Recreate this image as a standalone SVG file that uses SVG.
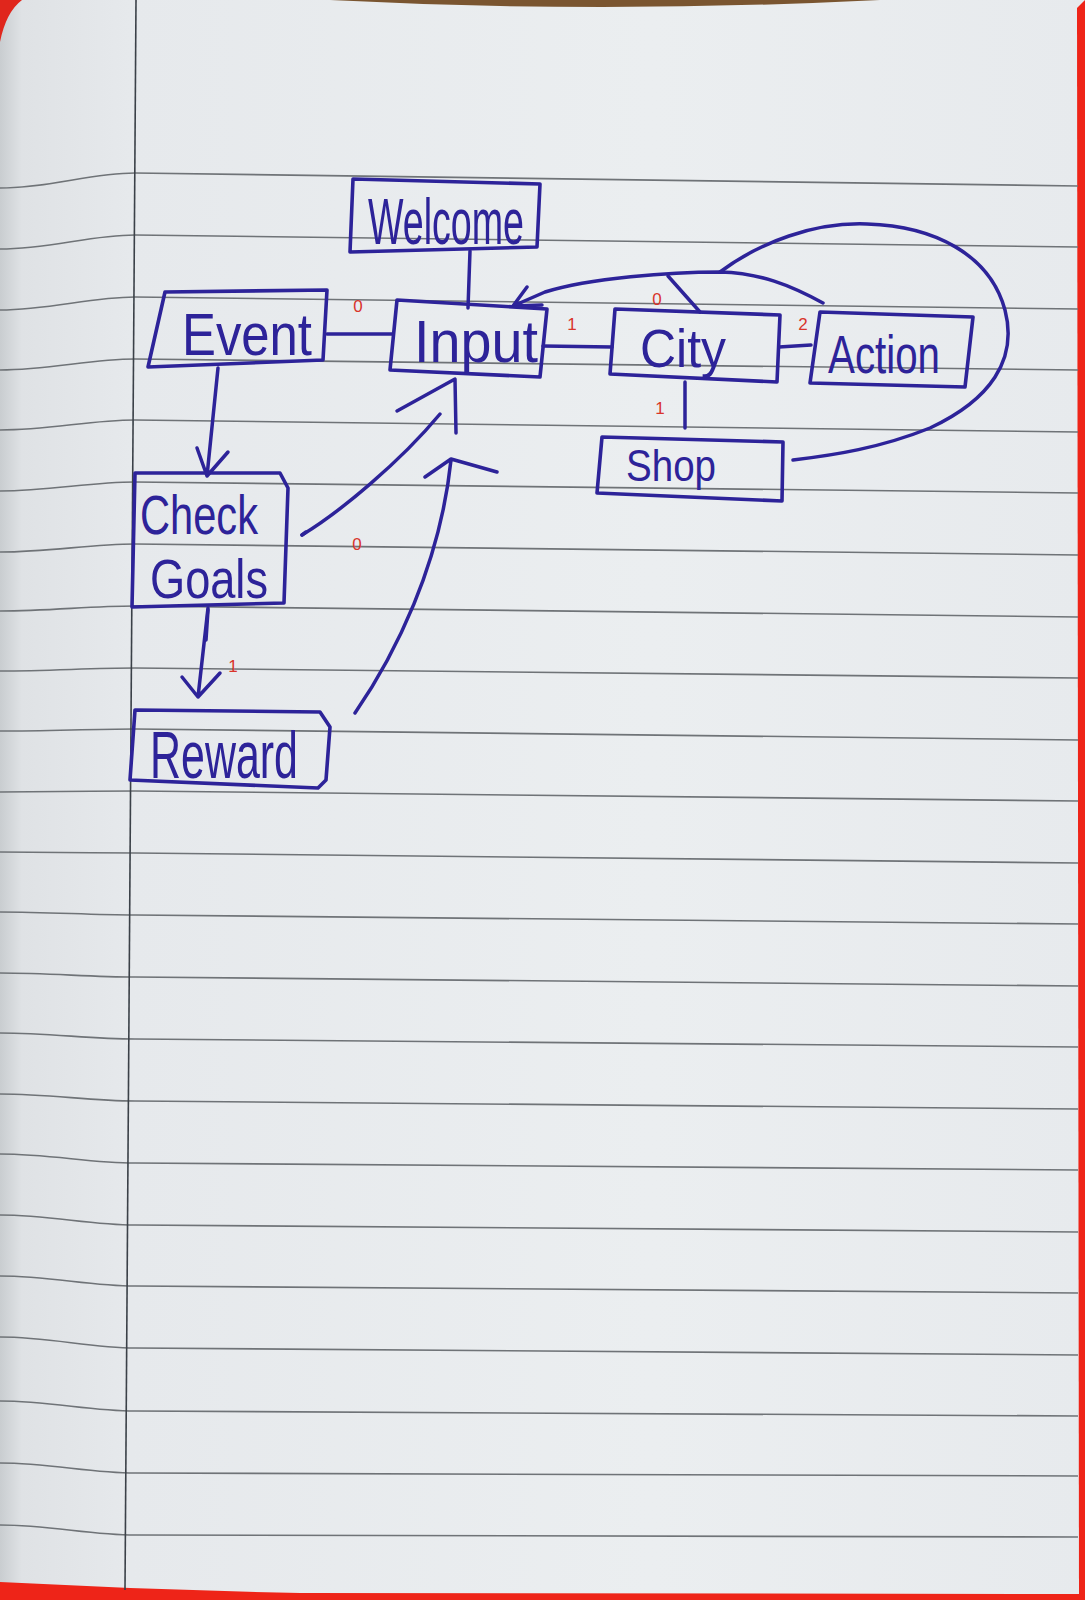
<svg xmlns="http://www.w3.org/2000/svg" width="1085" height="1600" viewBox="0 0 1085 1600">
<defs>
<linearGradient id="paper" x1="0" y1="0" x2="1" y2="0">
<stop offset="0" stop-color="#c9cdd0"/>
<stop offset="0.02" stop-color="#dfe2e5"/>
<stop offset="0.12" stop-color="#e6e9ec"/>
<stop offset="0.6" stop-color="#ebeef0"/>
<stop offset="1" stop-color="#e7eaed"/>
</linearGradient>
<style>
.rule{fill:none;stroke:#6f7377;stroke-width:1.6}
.pen{fill:none;stroke:#2d2399;stroke-width:3.5;stroke-linecap:round;stroke-linejoin:round}
.box{fill:none;stroke:#2d2399;stroke-width:3.6;stroke-linejoin:round}
.lbl{font-family:"Liberation Sans","DejaVu Sans",sans-serif;fill:#2d2399}
.red{font-family:"Liberation Sans","DejaVu Sans",sans-serif;fill:#d9342b;font-size:17px;text-anchor:middle}
</style>
</defs>
<rect x="0" y="0" width="1085" height="1600" fill="url(#paper)"/>
<path d="M330,0 Q600,14 880,0 Z" fill="#7a5530"/>
<path d="M0,0 L22,0 Q6,12 0,42 Z" fill="#e0261c"/>
<path d="M1077,8 L1085,0 L1085,1600 L1079,1600 Z" fill="#ee2418"/>
<path d="M0,1582 Q150,1590 300,1593 L1085,1594 L1085,1600 L0,1600 Z" fill="#ee2418"/>
<g id="ruling">
<path class="rule" d="M0,188 C50,188 90,173 135,173 L1078,186"/>
<path class="rule" d="M0,249 C50,249 90,235 135,235 L1078,247"/>
<path class="rule" d="M0,310 C50,310 90,297 135,297 L1078,309"/>
<path class="rule" d="M0,370 C50,370 90,359 135,359 L1078,370"/>
<path class="rule" d="M0,430 C50,430 90,420 135,420 L1078,432"/>
<path class="rule" d="M0,491 C50,491 90,482 135,482 L1078,493"/>
<path class="rule" d="M0,552 C50,552 90,544 135,544 L1078,555"/>
<path class="rule" d="M0,611 C50,611 90,606 135,606 L1078,617"/>
<path class="rule" d="M0,671 C50,671 90,668 135,668 L1078,678"/>
<path class="rule" d="M0,731 C50,731 90,729 135,729 L1078,740"/>
<path class="rule" d="M0,792 C50,792 90,791 135,791 L1078,801"/>
<path class="rule" d="M0,852 C50,852 90,853 135,853 L1078,863"/>
<path class="rule" d="M0,912 C50,912 90,915 135,915 L1078,924"/>
<path class="rule" d="M0,973 C50,973 90,977 135,977 L1078,986"/>
<path class="rule" d="M0,1033 C50,1033 90,1039 135,1039 L1078,1047"/>
<path class="rule" d="M0,1094 C50,1094 90,1101 135,1101 L1078,1109"/>
<path class="rule" d="M0,1154 C50,1154 90,1163 135,1163 L1078,1170"/>
<path class="rule" d="M0,1215 C50,1215 90,1225 135,1225 L1078,1232"/>
<path class="rule" d="M0,1276 C50,1276 90,1286 135,1286 L1078,1293"/>
<path class="rule" d="M0,1337 C50,1337 90,1348 135,1348 L1078,1355"/>
<path class="rule" d="M0,1401 C50,1401 90,1411 135,1411 L1078,1416"/>
<path class="rule" d="M0,1463 C50,1463 90,1473 135,1473 L1078,1476"/>
<path class="rule" d="M0,1525 C50,1525 90,1535 135,1535 L1078,1537"/>
<path d="M136,0 L125,1590" fill="none" stroke="#3b4148" stroke-width="1.6"/>
</g>
<g id="connectors">
<path class="pen" d="M470,251 L468,308" stroke-width="5"/>
<path class="pen" d="M327,334 L393,334"/>
<path class="pen" d="M543,346 L612,347"/>
<path class="pen" d="M779,347 L811,345"/>
<path class="pen" d="M685,382 L685,428"/>
<path class="pen" d="M218,368 L207,476 M197,448 L207,476 L228,452"/>
<path class="pen" d="M208,608 L198,697 M182,677 L198,697 L220,673"/>
<path class="pen" d="M208,610 L206,640" stroke-width="6"/>
<path class="pen" d="M302,535 C340,512 400,462 440,414"/>
<path class="pen" d="M302,535 L306,532" stroke-width="7"/>
<path class="pen" d="M397,411 L455,379 L456,433"/>
<path class="pen" d="M355,713 C395,655 440,565 451,460 M425,477 L451,459 L497,472"/>
<path class="pen" d="M823,303 C790,285 760,273 720,272 C670,272 590,278 545,292 L513,306 M527,287 L513,306 L542,305"/>
<path class="pen" d="M700,312 L668,276"/>
<path class="pen" d="M720,272 C760,242 815,222 867,224 C935,226 990,255 1005,310 C1018,360 990,400 930,428 C880,448 835,455 793,460"/>
<text class="red" x="358" y="312" font-size="15">0</text>
<text class="red" x="572" y="330">1</text>
<text class="red" x="657" y="305" font-size="15">0</text>
<text class="red" x="803" y="330">2</text>
<text class="red" x="660" y="414">1</text>
<text class="red" x="357" y="550" font-size="20">0</text>
<text class="red" x="233" y="672">1</text>
</g>
<g id="welcome">
<polygon class="box" points="353,179 540,184 537,247 350,252"/>
<text class="lbl" x="368" y="244" font-size="64" textLength="156" lengthAdjust="spacingAndGlyphs">Welcome</text>
</g>
<g id="event">
<polygon class="box" points="165,292 327,290 323,360 148,367"/>
<text class="lbl" x="182" y="355" font-size="60" textLength="130" lengthAdjust="spacingAndGlyphs">Event</text>
</g>
<g id="input">
<polygon class="box" points="397,300 547,309 540,377 390,370"/>
<text class="lbl" x="414" y="362" font-size="60" textLength="124" lengthAdjust="spacingAndGlyphs">Input</text>
</g>
<g id="city">
<polygon class="box" points="615,309 780,315 777,382 610,374"/>
<text class="lbl" x="640" y="367" font-size="54" textLength="86" lengthAdjust="spacingAndGlyphs">City</text>
</g>
<g id="action">
<polygon class="box" points="820,312 973,317 965,387 810,383"/>
<text class="lbl" x="828" y="373" font-size="54" textLength="112" lengthAdjust="spacingAndGlyphs">Action</text>
</g>
<g id="shop">
<polygon class="box" points="602,437 783,442 782,501 597,493"/>
<text class="lbl" x="626" y="481" font-size="44" textLength="90" lengthAdjust="spacingAndGlyphs">Shop</text>
</g>
<g id="check-goals">
<polygon class="box" points="135,473 280,473 288,488 284,603 132,607"/>
<text class="lbl" x="140" y="534" font-size="55" textLength="118" lengthAdjust="spacingAndGlyphs">Check</text>
<text class="lbl" x="150" y="598" font-size="55" textLength="118" lengthAdjust="spacingAndGlyphs">Goals</text>
</g>
<g id="reward">
<polygon class="box" points="135,710 320,712 330,727 326,780 318,788 130,780"/>
<text class="lbl" x="150" y="778" font-size="66" textLength="148" lengthAdjust="spacingAndGlyphs">Reward</text>
</g>
</svg>
